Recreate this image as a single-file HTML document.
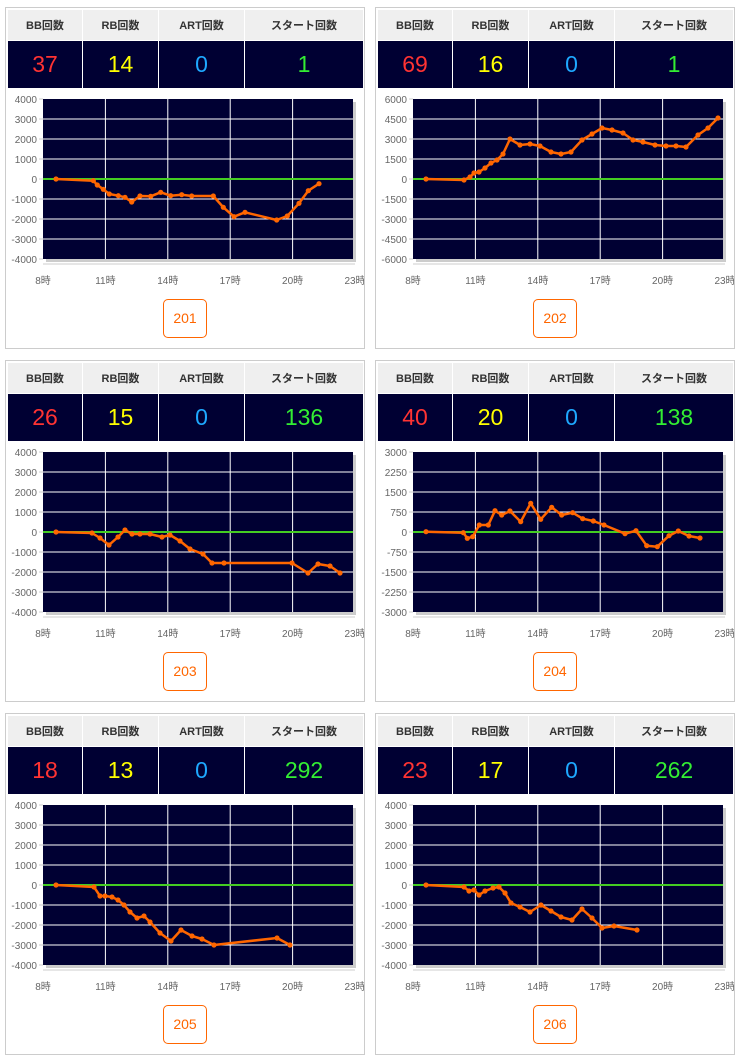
<!DOCTYPE html>
<html><head><meta charset="utf-8"><style>
body{margin:0;background:#fff;width:741px;height:1062px;position:relative;overflow:hidden;font-family:"Liberation Sans","Noto Sans CJK JP",sans-serif}
.p{position:absolute;width:358px;height:340px;border:1px solid #ccc;background:#fff;overflow:hidden}
.t{position:absolute;left:1px;top:1px;border-collapse:collapse;width:357px;table-layout:fixed}
.t td{border:1px solid #fff;text-align:center;padding:0}
.h td{background:#efefef;height:30px;font-size:11px;font-weight:bold;color:#333}
.v td{background:#000033;height:47px;font-size:23px}
.c1{color:#ff3333}.c2{color:#ffff00}.c3{color:#1ea8ff}.c4{color:#33ee33}
svg{position:absolute;left:-6px;top:-8px}
.b{position:absolute;left:157px;top:291px;width:42px;height:37px;border:1px solid #ff6600;border-radius:5px;color:#ff6600;font-size:14px;text-align:center;line-height:37px}
</style></head><body>
<svg width="0" height="0" style="position:absolute"><defs><marker id="m" markerUnits="userSpaceOnUse" markerWidth="6" markerHeight="6" refX="3" refY="3"><circle cx="3" cy="3" r="2.6" fill="#ff6600"/></marker>
<g id="grid"><rect x="46" y="102" width="310" height="160" fill="#ccc"/><rect x="43" y="99" width="310" height="160" fill="#000033"/>
<g stroke="#fff" stroke-width="1"><line x1="43" x2="353" y1="119" y2="119"/><line x1="43" x2="353" y1="139" y2="139"/><line x1="43" x2="353" y1="159" y2="159"/><line x1="43" x2="353" y1="199" y2="199"/><line x1="43" x2="353" y1="219" y2="219"/><line x1="43" x2="353" y1="239" y2="239"/>
<line x1="105.4" x2="105.4" y1="99" y2="259"/><line x1="167.8" x2="167.8" y1="99" y2="259"/><line x1="230.2" x2="230.2" y1="99" y2="259"/><line x1="292.6" x2="292.6" y1="99" y2="259"/></g>
<g stroke="#ccc"><line x1="39" x2="43" y1="99" y2="99"/><line x1="39" x2="43" y1="119" y2="119"/><line x1="39" x2="43" y1="139" y2="139"/><line x1="39" x2="43" y1="159" y2="159"/><line x1="39" x2="43" y1="179" y2="179"/><line x1="39" x2="43" y1="199" y2="199"/><line x1="39" x2="43" y1="219" y2="219"/><line x1="39" x2="43" y1="239" y2="239"/><line x1="39" x2="43" y1="259" y2="259"/><line x1="43" x2="355" y1="264" y2="264"/></g>
<line x1="43" x2="353" y1="179" y2="179" stroke="#44cc22" stroke-width="2"/>
<g fill="#666" font-size="10" text-anchor="middle" font-family="Liberation Sans,Noto Sans CJK JP,sans-serif"><text x="43" y="284">8時</text><text x="105.4" y="284">11時</text><text x="167.8" y="284">14時</text><text x="230.2" y="284">17時</text><text x="292.6" y="284">20時</text><text x="355" y="284">23時</text></g></g></defs></svg>

<!-- 201 -->
<div class="p" style="left:5px;top:7px">
<table class="t"><colgroup><col style="width:75px"><col style="width:76px"><col style="width:86px"><col></colgroup>
<tr class="h"><td>BB回数</td><td>RB回数</td><td>ART回数</td><td>スタート回数</td></tr>
<tr class="v"><td class="c1">37</td><td class="c2">14</td><td class="c3">0</td><td class="c4">1</td></tr></table>
<svg width="370" height="360" style="left:-6px;top:-8px"><use href="#grid"/>
<g fill="#666" font-size="10" text-anchor="end"><text x="37" y="103">4000</text><text x="37" y="123">3000</text><text x="37" y="143">2000</text><text x="37" y="163">1000</text><text x="37" y="183">0</text><text x="37" y="203">-1000</text><text x="37" y="223">-2000</text><text x="37" y="243">-3000</text><text x="37" y="263">-4000</text></g>
<polyline fill="none" stroke="#ff6600" stroke-width="2.5" stroke-linejoin="round" marker-start="url(#m)" marker-mid="url(#m)" marker-end="url(#m)" points="56,179 93.3,180.7 97.3,185 103.3,189.3 109.3,194 118.3,195.7 125,197.3 131.7,202 140,196 150.7,196.3 160.7,192.3 170.7,195.7 181.7,194.7 191.7,196 213.3,196 223.3,207.3 234,216.7 245,212.3 276.7,220 287.3,216 299,203.3 308.3,190.7 319,183.7"/></svg>
<div class="b">201</div></div>

<!-- 202 -->
<div class="p" style="left:375px;top:7px">
<table class="t"><colgroup><col style="width:75px"><col style="width:76px"><col style="width:86px"><col></colgroup>
<tr class="h"><td>BB回数</td><td>RB回数</td><td>ART回数</td><td>スタート回数</td></tr>
<tr class="v"><td class="c1">69</td><td class="c2">16</td><td class="c3">0</td><td class="c4">1</td></tr></table>
<svg width="370" height="360"><use href="#grid"/>
<g fill="#666" font-size="10" text-anchor="end"><text x="37" y="103">6000</text><text x="37" y="123">4500</text><text x="37" y="143">3000</text><text x="37" y="163">1500</text><text x="37" y="183">0</text><text x="37" y="203">-1500</text><text x="37" y="223">-3000</text><text x="37" y="243">-4500</text><text x="37" y="263">-6000</text></g>
<polyline fill="none" stroke="#ff6600" stroke-width="2.5" stroke-linejoin="round" marker-start="url(#m)" marker-mid="url(#m)" marker-end="url(#m)" points="56,179 94,180 100,177 104,173 109,172 115,168 121,163 127,160 133,154 140,139 150,145 160,144 170,146 181,152 191,154 201,152 212,140 222,134 232,128 242,130 253,133 263,140 273,142 285,145 296,146 306,146 316,147 328,135 338,128 348,118"/></svg>
<div class="b">202</div></div>

<!-- 203 -->
<div class="p" style="left:5px;top:360px">
<table class="t"><colgroup><col style="width:75px"><col style="width:76px"><col style="width:86px"><col></colgroup>
<tr class="h"><td>BB回数</td><td>RB回数</td><td>ART回数</td><td>スタート回数</td></tr>
<tr class="v"><td class="c1">26</td><td class="c2">15</td><td class="c3">0</td><td class="c4">136</td></tr></table>
<svg width="370" height="360"><use href="#grid"/>
<g fill="#666" font-size="10" text-anchor="end"><text x="37" y="103">4000</text><text x="37" y="123">3000</text><text x="37" y="143">2000</text><text x="37" y="163">1000</text><text x="37" y="183">0</text><text x="37" y="203">-1000</text><text x="37" y="223">-2000</text><text x="37" y="243">-3000</text><text x="37" y="263">-4000</text></g>
<polyline fill="none" stroke="#ff6600" stroke-width="2.5" stroke-linejoin="round" marker-start="url(#m)" marker-mid="url(#m)" marker-end="url(#m)" points="56,179 92,180 100,185 109,192 118,184 125,177 132,181 140,181 150,181 162,184 170,182 180,188 190,196 203,201 212,210 224,210 292,210 308,220 318,211 330,213 340,220"/></svg>
<div class="b">203</div></div>

<!-- 204 -->
<div class="p" style="left:375px;top:360px">
<table class="t"><colgroup><col style="width:75px"><col style="width:76px"><col style="width:86px"><col></colgroup>
<tr class="h"><td>BB回数</td><td>RB回数</td><td>ART回数</td><td>スタート回数</td></tr>
<tr class="v"><td class="c1">40</td><td class="c2">20</td><td class="c3">0</td><td class="c4">138</td></tr></table>
<svg width="370" height="360"><use href="#grid"/>
<g fill="#666" font-size="10" text-anchor="end"><text x="37" y="103">3000</text><text x="37" y="123">2250</text><text x="37" y="143">1500</text><text x="37" y="163">750</text><text x="37" y="183">0</text><text x="37" y="203">-750</text><text x="37" y="223">-1500</text><text x="37" y="243">-2250</text><text x="37" y="263">-3000</text></g>
<polyline fill="none" stroke="#ff6600" stroke-width="2.5" stroke-linejoin="round" marker-start="url(#m)" marker-mid="url(#m)" marker-end="url(#m)" points="56,178.7 93.3,179.7 97.3,185.3 102.7,183.7 109.3,172 118.3,172 125,157.7 131.7,162 140,158 150.7,168.7 160.7,150.3 170.7,166.3 181.7,154.3 191.7,162 202.7,159.7 212.7,165.7 223.3,168 234,172 255,180.7 266,177.7 276.7,192.7 287.3,193.7 299,182.7 308.3,178 319,183 330,185"/></svg>
<div class="b">204</div></div>

<!-- 205 -->
<div class="p" style="left:5px;top:713px">
<table class="t"><colgroup><col style="width:75px"><col style="width:76px"><col style="width:86px"><col></colgroup>
<tr class="h"><td>BB回数</td><td>RB回数</td><td>ART回数</td><td>スタート回数</td></tr>
<tr class="v"><td class="c1">18</td><td class="c2">13</td><td class="c3">0</td><td class="c4">292</td></tr></table>
<svg width="370" height="360"><use href="#grid"/>
<g fill="#666" font-size="10" text-anchor="end"><text x="37" y="103">4000</text><text x="37" y="123">3000</text><text x="37" y="143">2000</text><text x="37" y="163">1000</text><text x="37" y="183">0</text><text x="37" y="203">-1000</text><text x="37" y="223">-2000</text><text x="37" y="243">-3000</text><text x="37" y="263">-4000</text></g>
<polyline fill="none" stroke="#ff6600" stroke-width="2.5" stroke-linejoin="round" marker-start="url(#m)" marker-mid="url(#m)" marker-end="url(#m)" points="56,179 94,181 100,190 105,190 112,191 118,194 124,199 130,206 137,212 144,210 150,216 160,227 171,235 181,224 192,230 202,233 214,239 277,232 290,239"/></svg>
<div class="b">205</div></div>

<!-- 206 -->
<div class="p" style="left:375px;top:713px">
<table class="t"><colgroup><col style="width:75px"><col style="width:76px"><col style="width:86px"><col></colgroup>
<tr class="h"><td>BB回数</td><td>RB回数</td><td>ART回数</td><td>スタート回数</td></tr>
<tr class="v"><td class="c1">23</td><td class="c2">17</td><td class="c3">0</td><td class="c4">262</td></tr></table>
<svg width="370" height="360"><use href="#grid"/>
<g fill="#666" font-size="10" text-anchor="end"><text x="37" y="103">4000</text><text x="37" y="123">3000</text><text x="37" y="143">2000</text><text x="37" y="163">1000</text><text x="37" y="183">0</text><text x="37" y="203">-1000</text><text x="37" y="223">-2000</text><text x="37" y="243">-3000</text><text x="37" y="263">-4000</text></g>
<polyline fill="none" stroke="#ff6600" stroke-width="2.5" stroke-linejoin="round" marker-start="url(#m)" marker-mid="url(#m)" marker-end="url(#m)" points="56,179 94,181 99,185 104,184 109,189 115,185 123,182 129,181 135,187 141,197 150,201 160,206 171,199 181,205 191,211 202,214 212,203 222,212 232,222 244,220 267,224"/></svg>
<div class="b">206</div></div>
</body></html>
